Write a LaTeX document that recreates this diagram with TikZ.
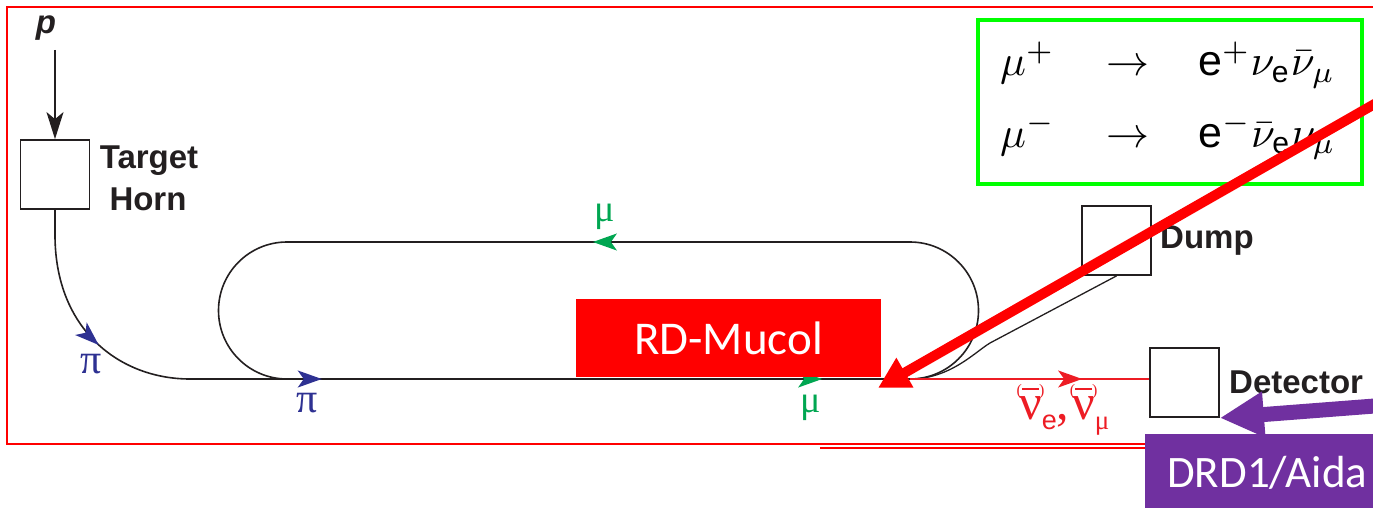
\documentclass[tikz,border=0pt]{standalone}
\usepackage{fontspec}
\setmainfont{Liberation Serif}
\setsansfont{Liberation Sans}
\newfontfamily\calibri{Carlito}
\usetikzlibrary{arrows.meta,decorations.markings}

\definecolor{ink}{HTML}{231F20}
\definecolor{piblue}{HTML}{2E3192}
\definecolor{mugreen}{HTML}{00A651}
\definecolor{nured}{HTML}{ED1C24}
\definecolor{boxgreen}{HTML}{00FF00}
\definecolor{tagred}{HTML}{FF0000}
\definecolor{tagpurple}{HTML}{7030A0}

% neutrino/antineutrino symbol: nu with a bracketed bar above
\newcommand\pnu{\mbox{\ooalign{ν\cr\hidewidth\raisebox{24pt}{\fontsize{16}{16}\selectfont(\rule[5pt]{17pt}{2pt})}\hidewidth\cr}}}
\newcommand\nusub[1]{\raisebox{-10pt}{\fontsize{27}{27}\selectfont #1}}
% decay formulas, set at 10pt and enlarged
\newcommand\bigmath[1]{\scalebox{4.3}{$#1$}}

\begin{document}
\begin{tikzpicture}[x=1pt,y=-1pt,
  line/.style={draw=ink, line width=1.6pt},
  nuline/.style={draw=nured, line width=1.5pt},
  boxnode/.style={draw=ink, line width=1.8pt, minimum width=69pt, minimum height=69pt, inner sep=0pt},
  lbl/.style={text=ink, font=\sffamily\bfseries\fontsize{33}{40}\selectfont, inner sep=0pt},
  greek/.style={inner sep=0pt, font=\fontsize{38}{38}\selectfont},
  eq/.style={inner sep=0pt},
  markat/.style 2 args={postaction={decorate, decoration={markings,
      mark=at position #1 with {\arrow{Stealth[length=24pt,width=17pt,inset=6pt,color=#2]}}}}}
]
\useasboundingbox (0,0) rectangle (1373,508);
\clip (0,0) rectangle (1373,508);

% outer frame
\draw[tagred, line width=1.5pt] (1400,7) -- (7,7) -- (7,444) -- (1145,444);
\draw[tagred, line width=1.2pt] (820,448) -- (1145,448);

% proton beam and target
\coordinate (pin) at (55,50);
\node[boxnode] (target) at (55,174.5) {};
\node[lbl, font=\sffamily\bfseries\itshape\fontsize{33}{40}\selectfont, anchor=base] (plabel) at (46,34) {p};
\draw[line, -{Stealth[length=27pt,width=17pt,inset=7pt]}] (pin) -- (target.north);
\node[lbl, anchor=base] (targetlbl) at (149,168) {Target};
\node[lbl, anchor=base] (hornlbl) at (148,210) {Horn};

% transfer line and racetrack ring
\coordinate (hornbend) at (55,235);
\coordinate (inj) at (190,379);
\coordinate (ringBL) at (287,379);
\coordinate (ringBR) at (910,379);
\coordinate (ringTR) at (910,242);
\coordinate (ringTL) at (287,242);

\draw[line] (target.south) -- (hornbend);
\draw[line, markat={0.55}{piblue}] (hornbend) .. controls (55,330) and (120,379) .. (inj);
\draw[line, markat={0.183}{piblue}, markat={0.878}{mugreen}] (inj) -- (ringBR);
\draw[line, markat={0.509}{mugreen}] (ringTR) -- (ringTL);
\draw[line] (ringTL) arc (270:90:68.5);
\draw[line] (ringBR) arc (90:-90:68.5);

% particle labels
\node[greek, font=\fontsize{42}{42}\selectfont, text=piblue, anchor=base] (pilbla) at (91,373) {π};
\node[greek, font=\fontsize{42}{42}\selectfont, text=piblue, anchor=base] (pilblb) at (307,412) {π};
\node[greek, text=mugreen, anchor=base] (mulbla) at (605,221) {μ};
\node[greek, text=mugreen, anchor=base] (mulblb) at (811,412) {μ};

% dump and detector
\node[boxnode] (dump) at (1116.5,240.5) {};
\node[lbl, anchor=base west] (dumplbl) at (1160,248) {Dump};
\node[boxnode] (det) at (1184.5,382.5) {};
\node[lbl, anchor=base west] (detlbl) at (1229,393) {Detector};

\draw[line, line width=1.3pt] (ringBR) .. controls (950,379) and (975,352) .. (990,343) -- (dump.south);
\draw[nuline, markat={0.72}{nured}] (ringBR) -- (det.west |- ringBR);
\node[inner sep=0pt, text=nured, anchor=base west, font=\fontsize{50}{50}\selectfont] (nulbl) at (1019,419)
  {\pnu\nusub{\sffamily e},\hspace{3pt}\pnu\nusub{μ}};

% decay box
\node[draw=boxgreen, line width=4pt, minimum width=384pt, minimum height=164pt, inner sep=0pt] (decay) at (1170,102) {};
\node[eq, anchor=base west] (eqla) at (1000,76) {\bigmath{\mu^+}};
\node[eq, anchor=base] (eqaa) at (1128,76) {\bigmath{\to}};
\node[eq, anchor=base west] (eqra) at (1198,76) {\bigmath{\mathsf{e}^+\nu_{\mathsf{e}}\bar{\nu}_\mu}};
\node[eq, anchor=base west] (eqlb) at (1000,147) {\bigmath{\mu^-}};
\node[eq, anchor=base] (eqab) at (1128,147) {\bigmath{\to}};
\node[eq, anchor=base west] (eqrb) at (1198,147) {\bigmath{\mathsf{e}^-\bar{\nu}_{\mathsf{e}}\nu_\mu}};

% RD-Mucol tag
\node[fill=tagred, minimum width=305pt, minimum height=78pt, inner sep=0pt, text=white,
  font=\calibri\fontsize{47}{50}\selectfont] (mucol) at (728.5,338) {RD-Mucol};
\coordinate (mucoltip) at (878,388);
\coordinate (mucoltail) at (1420,78);
\draw[tagred, line width=10pt, -{Triangle[length=31pt,width=32pt]}] (mucoltail) -- (mucoltip);

% DRD1/Aida tag
\node[fill=tagpurple, minimum width=300pt, minimum height=100pt, inner sep=0pt, anchor=north west] (drd) at (1145,434) {};
\node[inner sep=0pt, text=white, anchor=base west, font=\calibri\fontsize{45}{50}\selectfont] (drdlbl) at (1167,487) {DRD1/Aida};
\coordinate (drdtail) at (1420,402.5);
\draw[tagpurple, line width=15pt, -{Triangle[length=44pt,width=43pt]}] (drdtail) -- (det.south east);
\end{tikzpicture}
\end{document}
